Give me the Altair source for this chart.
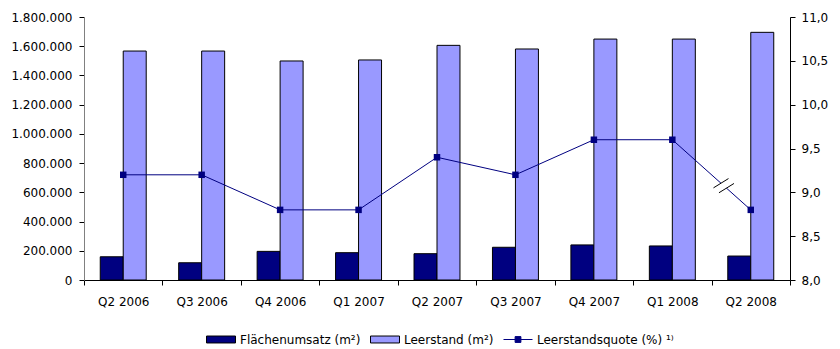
import altair as alt
import pandas as pd

# Quarterly office market figures
quarters = ["Q2 2006", "Q3 2006", "Q4 2006", "Q1 2007", "Q2 2007",
            "Q3 2007", "Q4 2007", "Q1 2008", "Q2 2008"]
flaechenumsatz = [159000, 118000, 196000, 187000, 180000, 224000, 240000, 233000, 164000]
leerstand = [1567000, 1567000, 1499000, 1506000, 1606000, 1581000, 1649000, 1649000, 1695000]
leerstandsquote = [9.2, 9.2, 8.8, 8.8, 9.4, 9.2, 9.6, 9.6, 8.8]

series_names = ["Flächenumsatz (m²)", "Leerstand (m²)", "Leerstandsquote (%) ¹⁾"]
series_colors = ["#000080", "#9999FF", "#000080"]

NAVY = "#000080"
FONT = "DejaVu Sans"
W, H = 706, 263
AREA_MAX = 1_800_000
RATE_MIN, RATE_MAX = 8.0, 11.0
BAR_W = 0.293  # width of one bar, as a fraction of a category

n = len(quarters)
idx = list(range(n))

bars_df = pd.DataFrame({
    "idx": idx * 2,
    "side": [-1] * n + [0] * n,
    "series": [series_names[0]] * n + [series_names[1]] * n,
    "value": flaechenumsatz + leerstand,
})
rate_df = pd.DataFrame({"idx": idx, "rate": leerstandsquote})

# Axis break on the rate line between the last two quarters
px_x = n / W
px_y = (RATE_MAX - RATE_MIN) / H
seg_from, seg_to = n - 2, n - 1
def on_segment(t):
    r0, r1 = leerstandsquote[seg_from], leerstandsquote[seg_to]
    return seg_from + t, r0 + (r1 - r0) * t
t_breaks = [0.62, 0.69]
hx, hy = 7.5 * px_x, 4.65 * px_y
break_rows = []
for t in t_breaks:
    cx, cy = on_segment(t)
    break_rows.append({"x": cx - hx, "y": cy - hy, "x2": cx + hx, "y2": cy + hy})
breaks_df = pd.DataFrame(break_rows)
g0, g1 = on_segment(t_breaks[0]), on_segment(t_breaks[1])
gap_df = pd.DataFrame([{"x": g0[0], "y": g0[1], "x2": g1[0], "y2": g1[1]}])

# Category names sit at the integer positions
label_expr = "''"
for i in reversed(idx):
    label_expr = f"abs(datum.value - {i}) < 0.01 ? '{quarters[i]}' : ({label_expr})"

x_scale = alt.Scale(domain=[-0.5, n - 0.5], nice=False, zero=False)

# Ticks and axis line, with ticks on the boundaries between quarters
x_tick_axis = alt.Axis(
    orient="bottom",
    values=[i - 0.5 for i in range(n + 1)],
    labels=False, tickSize=5, tickColor="black", domainColor="black",
    grid=False, title=None,
)
# Quarter names, centred under each pair of bars
x_label_axis = alt.Axis(
    orient="bottom",
    values=idx,
    labelExpr=label_expr,
    ticks=False, domain=False, tickSize=5,
    labelPadding=16, labelOverlap=False, labelFlush=False,
    grid=False, title=None,
)

area_axis = alt.Axis(
    values=list(range(0, AREA_MAX + 1, 200000)),
    labelExpr="replace(format(datum.value, ','), regexp(',', 'g'), '.')",
    tickSize=5, tickColor="black", domainColor="#808080",
    labelPadding=7, grid=False, title=None,
)
rate_axis = alt.Axis(
    orient="right",
    values=[8.0, 8.5, 9.0, 9.5, 10.0, 10.5, 11.0],
    labelExpr="replace(format(datum.value, '.1f'), '.', ',')",
    tickSize=5, tickColor="black", domainColor="black",
    labelPadding=6, grid=False, title=None,
)
rate_scale = alt.Scale(domain=[RATE_MIN, RATE_MAX], nice=False, zero=False)

is_rate = "indexof(datum.value, 'Leerstandsquote') === 0"
legend = alt.Legend(
    title=None, orient="none", direction="horizontal",
    legendX=122, legendY=307.5,
    symbolSize=841, labelOffset=4, columnPadding=7, labelLimit=0,
    labelFont=FONT, labelFontSize=12, labelColor="black",
    symbolType={"expr": f"{is_rate} ? 'M-1,0H1M-0.2,-0.2H0.2V0.2H-0.2Z' : 'M-1,-0.24H1V0.24H-1Z'"},
    symbolStrokeColor={"expr": f"{is_rate} ? '#000080' : '#000000'"},
    symbolStrokeWidth=1, symbolOpacity=1,
)

bars = alt.Chart(bars_df).transform_calculate(
    x0=f"datum.idx + datum.side * {BAR_W}",
    x1=f"datum.idx + (datum.side + 1) * {BAR_W}",
).mark_rect(stroke="black", strokeWidth=1, opacity=1).encode(
    x=alt.X("x0:Q", scale=x_scale, axis=x_tick_axis),
    x2="x1:Q",
    y=alt.Y("value:Q", scale=alt.Scale(domain=[0, AREA_MAX], nice=False), axis=area_axis),
    y2=alt.Y2(datum=0),
    color=alt.Color("series:N", scale=alt.Scale(domain=series_names, range=series_colors),
                    legend=legend),
)

line = alt.Chart(rate_df).mark_line(color=NAVY, strokeWidth=1).encode(
    x=alt.X("idx:Q", scale=x_scale, axis=x_label_axis),
    y=alt.Y("rate:Q", scale=rate_scale, axis=rate_axis),
)
points = alt.Chart(rate_df).mark_point(shape="square", filled=True, size=42,
                                       color=NAVY, opacity=1).encode(
    x=alt.X("idx:Q", scale=x_scale),
    y=alt.Y("rate:Q", scale=rate_scale),
)
gap = alt.Chart(gap_df).mark_rule(color="white", strokeWidth=3).encode(
    x=alt.X("x:Q", scale=x_scale), x2="x2:Q",
    y=alt.Y("y:Q", scale=rate_scale), y2="y2:Q",
)
break_marks = alt.Chart(breaks_df).mark_rule(color="black", strokeWidth=1).encode(
    x=alt.X("x:Q", scale=x_scale), x2="x2:Q",
    y=alt.Y("y:Q", scale=rate_scale), y2="y2:Q",
)

rate_layers = alt.layer(line, points, gap, break_marks)

chart = alt.layer(bars, rate_layers).resolve_scale(y="independent").resolve_axis(
    x="independent"
).properties(
    width=W, height=H,
    autosize=alt.AutoSizeParams(type="none"),
    padding={"left": 84, "top": 17, "right": 50, "bottom": 69},
).configure_view(stroke=None).configure_axis(
    labelFont=FONT, labelFontSize=12, labelColor="black", grid=False,
)

chart.save("out.html", embed_options={"renderer": "svg", "actions": False})
